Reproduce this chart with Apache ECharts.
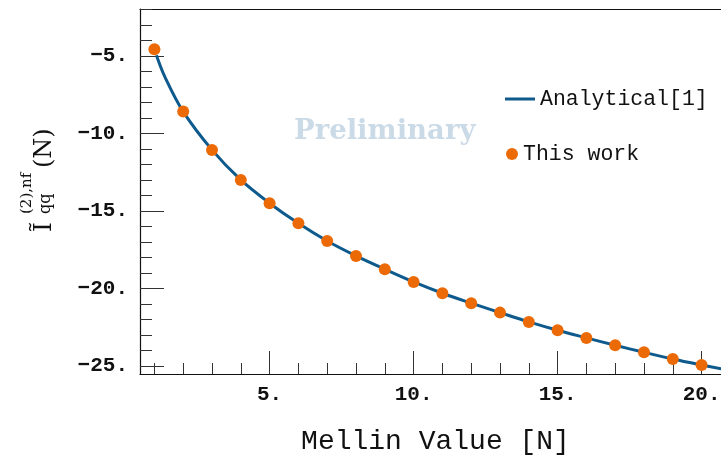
<!DOCTYPE html>
<html>
<head>
<meta charset="utf-8">
<script src="https://cdn.jsdelivr.net/npm/echarts@6/dist/echarts.min.js"></script>
<style>html,body{margin:0;padding:0;background:#fff}#c{width:721px;height:457px}</style>
</head>
<body>
<div id="c"></div>
<script>
// ---- data ----
var workN      = [1, 2, 3, 4, 5, 6, 7, 8, 9, 10, 11, 12, 13, 14, 15, 16, 17, 18, 19, 20];
var workValues = [-4.57, -8.59, -11.06, -13.0, -14.50, -15.80, -16.94, -17.90, -18.76, -19.58,
                  -20.31, -20.95, -21.56, -22.16, -22.70, -23.19, -23.67, -24.12, -24.55, -24.94];
var lineN      = [1.07, 1.36, 2, 3, 4, 5, 6, 7, 8, 9, 10, 11, 12, 13, 14, 15, 16, 17, 18, 19, 20, 20.68];
var lineValues = [-4.95, -6.33, -8.59, -11.06, -13.0, -14.50, -15.80, -16.94, -17.90, -18.76, -19.58,
                  -20.31, -20.95, -21.56, -22.16, -22.70, -23.19, -23.67, -24.12, -24.55, -24.94, -25.19];
var xMajorTicks = [5, 10, 15, 20];
var xMinorTicks = [1, 2, 3, 4, 5, 6, 7, 8, 9, 10, 11, 12, 13, 14, 15, 16, 17, 18, 19, 20];
var yMajorTicks = [-25, -20, -15, -10, -5];
var yMinorTicks = [-25, -24, -23, -22, -21, -20, -19, -18, -17, -16, -15, -14, -13, -12, -11, -10, -9, -8, -7, -6, -5, -4, -3, -2];
var seriesNames = ['Analytical[1]', 'This work'];
var xTitle = 'Mellin Value [N]';
var watermark = 'Preliminary';

var X_MIN = 0.5, X_MAX = 20.674, Y_MIN = -25.52, Y_MAX = -1.97;
var MONO = '"Liberation Mono", "DejaVu Sans Mono", monospace';
var SERIF = '"DejaVu Serif", "Liberation Serif", serif';
var BLUE = '#0e5a8d', ORANGE = '#ec6a06';

function fmt(v) { return (v < 0 ? '\u2212' + Math.abs(v) : String(v)) + '.'; }

var lineData = lineN.map(function (n, i) { return [n, lineValues[i]]; });
var dotData = workN.map(function (n, i) { return [n, workValues[i]]; });

var axisLine = { show: true, lineStyle: { color: '#111', width: 1.2 } };
var tickStyle = { color: '#333', width: 1 };

// rotated y-axis title pieces: baseline b, font size s -> top = b - 0.8 s
function piece(text, x, b, s) {
  return { type: 'text', style: { text: text, x: x, y: b - 0.8 * s, font: s + 'px ' + SERIF, fill: '#111', verticalAlign: 'top' } };
}

var chart = echarts.init(document.getElementById('c'), null, { renderer: 'canvas' });
chart.setOption({
  animation: false,
  backgroundColor: '#fff',
  grid: { left: 140, top: 9, right: 0, bottom: 83, containLabel: false, outerBoundsMode: 'none' },
  xAxis: [
    {
      type: 'value', min: X_MIN, max: X_MAX, position: 'bottom',
      axisLine: axisLine, splitLine: { show: false },
      axisTick: { show: true, inside: true, length: 23, lineStyle: tickStyle, customValues: xMajorTicks },
      axisLabel: { show: true, customValues: xMajorTicks, formatter: fmt, margin: 10,
                   fontFamily: MONO, fontSize: 21, fontWeight: 'bold', color: '#111' },
      name: xTitle, nameLocation: 'middle', nameGap: 54,
      nameTextStyle: { fontFamily: MONO, fontSize: 28, color: '#111', padding: [0, 0, 0, 10] }
    },
    {
      type: 'value', min: X_MIN, max: X_MAX, position: 'bottom',
      axisLine: { show: false }, splitLine: { show: false }, axisLabel: { show: false },
      axisTick: { show: true, inside: true, length: 11, lineStyle: tickStyle, customValues: xMinorTicks }
    },
    {
      type: 'value', min: X_MIN, max: X_MAX, position: 'top',
      axisLine: axisLine, splitLine: { show: false }, axisLabel: { show: false }, axisTick: { show: false }
    }
  ],
  yAxis: [
    {
      type: 'value', min: Y_MIN, max: Y_MAX, position: 'left',
      axisLine: axisLine, splitLine: { show: false },
      axisTick: { show: true, inside: true, length: 24, lineStyle: tickStyle, customValues: yMajorTicks },
      axisLabel: { show: true, customValues: yMajorTicks, formatter: fmt, margin: 12,
                   fontFamily: MONO, fontSize: 21, fontWeight: 'bold', color: '#111' }
    },
    {
      type: 'value', min: Y_MIN, max: Y_MAX, position: 'left',
      axisLine: { show: false }, splitLine: { show: false }, axisLabel: { show: false },
      axisTick: { show: true, inside: true, length: 12, lineStyle: tickStyle, customValues: yMinorTicks }
    }
  ],
  legend: [
    {
      data: [seriesNames[0]], left: 505, top: 88, orient: 'vertical',
      icon: 'rect', itemWidth: 30, itemHeight: 3, padding: 0,
      textStyle: { fontFamily: MONO, fontSize: 21.5, color: '#111' }
    },
    {
      data: [seriesNames[1]], left: 506, top: 143, orient: 'vertical',
      icon: 'circle', itemWidth: 12, itemHeight: 12, padding: 0,
      textStyle: { fontFamily: MONO, fontSize: 21.5, color: '#111' }
    }
  ],
  graphic: [
    {
      type: 'text', x: 294, y: 118, z: 0,
      style: { text: watermark, font: 'bold 27.5px ' + SERIF, fill: '#cbdae7', verticalAlign: 'top' }
    },
    {
      type: 'group', x: 52, y: 232, rotation: Math.PI / 2,
      children: [
        piece('\u0128', 0, 0, 25),
        piece('qq', 18, -1, 16),
        piece('(2),nf', 18, -20, 15),
        piece('(N)', 64, 0, 24)
      ]
    }
  ],
  series: [
    {
      name: seriesNames[0], type: 'line', xAxisIndex: 0, yAxisIndex: 0,
      data: lineData, smooth: 0.35, showSymbol: false, symbol: 'none', clip: true,
      lineStyle: { color: BLUE, width: 3 }, itemStyle: { color: BLUE }, z: 2
    },
    {
      name: seriesNames[1], type: 'scatter', xAxisIndex: 0, yAxisIndex: 0,
      data: dotData, symbol: 'circle', symbolSize: 12,
      itemStyle: { color: ORANGE, opacity: 1 }, z: 3
    }
  ]
});
</script>
</body>
</html>
